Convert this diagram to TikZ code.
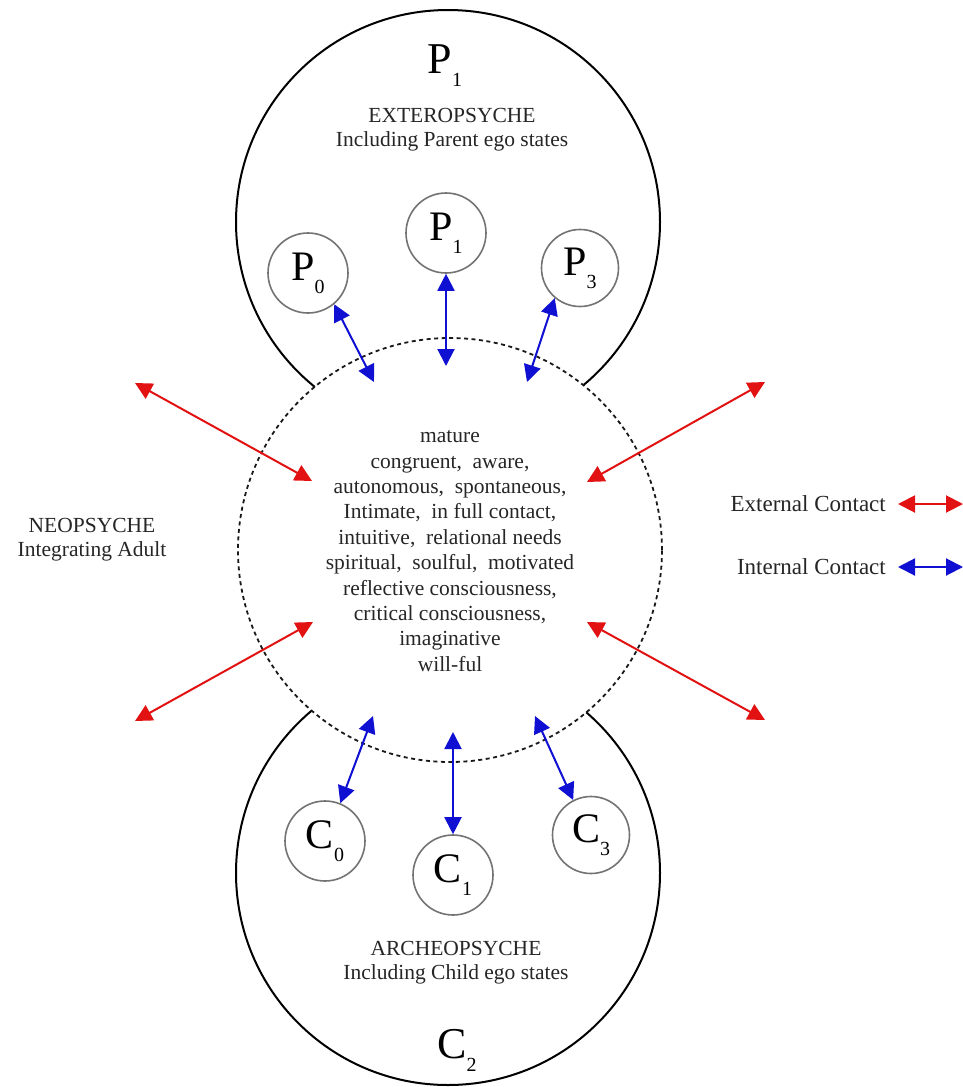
\documentclass[tikz,border=0pt]{standalone}
\usepackage{fontspec}
\setmainfont{Liberation Serif}
\usetikzlibrary{arrows.meta}
\definecolor{extcol}{RGB}{226,18,18}
\definecolor{intcol}{RGB}{16,16,210}
\newcommand\egosub[1]{\raisebox{-13pt}{\fontsize{20}{20}\selectfont #1}}
\tikzset{ctip/.tip={Triangle[length=17pt,width=17pt]}}

\begin{document}
\begin{tikzpicture}[x=1pt,y=-1pt,
  outline/.style={line width=2pt, black},
  adultline/.style={line width=1.8pt, black!90, dash pattern=on 4pt off 3.5pt},
  ego/.style={circle, draw=black!55, line width=1.6pt, minimum size=80pt, inner sep=0pt,
    font=\fontsize{42}{42}\selectfont},
  biglbl/.style={inner sep=0pt, font=\fontsize{44}{44}\selectfont},
  lbl/.style={inner sep=0pt, align=center, text=black!85, font=\fontsize{21.5}{24}\selectfont},
  body/.style={inner sep=0pt, align=center, text=black!85, font=\fontsize{21.5}{25.4}\selectfont},
  legend/.style={inner sep=0pt, anchor=east, text=black!85, font=\fontsize{23}{23}\selectfont},
  external/.style={extcol, line width=2pt, ctip-ctip},
  internal/.style={intcol, line width=2pt, ctip-ctip}
]
\useasboundingbox (0,0) rectangle (963,1087);
\fill[white] (0,0) rectangle (963,1087);

% centres of the three psyche regions
\coordinate (adult) at (450,550);
\coordinate (extero) at (448,222);
\coordinate (archeo) at (448,873);

% solid outlines of exteropsyche and archeopsyche, outside the adult circle
\begin{scope}[even odd rule]
  \clip (-20,-20) rectangle (990,1110) (adult) circle[radius=212pt];
  \draw[outline] (extero) circle[radius=212pt];
  \draw[outline] (archeo) circle[radius=212pt];
\end{scope}

% neopsyche boundary
\draw[adultline] (adult) circle[radius=212pt];

% region labels
\node[biglbl] (Ptop) at (445,66) {P\egosub{1}};
\node[lbl] (exlbl) at (452,130) {EXTEROPSYCHE\\Including Parent ego states};
\node[lbl] (neolbl) at (92,540) {NEOPSYCHE\\Integrating Adult};
\node[lbl] (arlbl) at (456,963) {ARCHEOPSYCHE\\Including Child ego states};
\node[biglbl] (Cbot) at (457,1050) {C\egosub{2}};

% adult qualities
\node[body] (qual) at (450,551) {mature\\congruent,\ \ aware,\\autonomous,\ \ spontaneous,\\Intimate,\ \ in full contact,\\intuitive,\ \ relational needs\\spiritual,\ \ soulful,\ \ motivated\\reflective consciousness,\\critical consciousness,\\imaginative\\will-ful};

% ego states
\node[ego] (P0) at (308,273) {P\egosub{0}};
\node[ego] (P1) at (446,233) {P\egosub{1}};
\node[ego, minimum size=77pt] (P3) at (580,268) {P\egosub{3}};
\node[ego] (C0) at (325,841) {C\egosub{0}};
\node[ego] (C1) at (453,875) {C\egosub{1}};
\node[ego, minimum size=77pt] (C3) at (591,835) {C\egosub{3}};

% internal contact
\coordinate (p0i) at (374,382);
\coordinate (p1i) at (446,366);
\coordinate (p3i) at (527,382);
\coordinate (c0i) at (373,716);
\coordinate (c1i) at (453,732);
\coordinate (c3i) at (535,716);
\draw[internal] (P0.-50) -- (p0i);
\draw[internal] (P1.south) -- (p1i);
\draw[internal] (P3.230) -- (p3i);
\draw[internal] (C0.68) -- (c0i);
\draw[internal] (C1.north) -- (c1i);
\draw[internal] (C3.117) -- (c3i);

% external contact
\coordinate (eul) at (135,383);
\coordinate (iul) at (312,481);
\coordinate (eur) at (765,382);
\coordinate (iur) at (587,482);
\coordinate (ell) at (135,721);
\coordinate (ill) at (313,622);
\coordinate (elr) at (765,720);
\coordinate (ilr) at (587,622);
\draw[external] (eul) -- (iul);
\draw[external] (eur) -- (iur);
\draw[external] (ell) -- (ill);
\draw[external] (elr) -- (ilr);

% legend
\node[legend] (extkey) at (886,504) {External Contact};
\node[legend] (intkey) at (886,567) {Internal Contact};
\coordinate (extL) at (898,504);
\coordinate (extR) at (963,504);
\coordinate (intL) at (898,567);
\coordinate (intR) at (963,567);
\draw[external] (extL) -- (extR);
\draw[internal] (intL) -- (intR);
\end{tikzpicture}
\end{document}
